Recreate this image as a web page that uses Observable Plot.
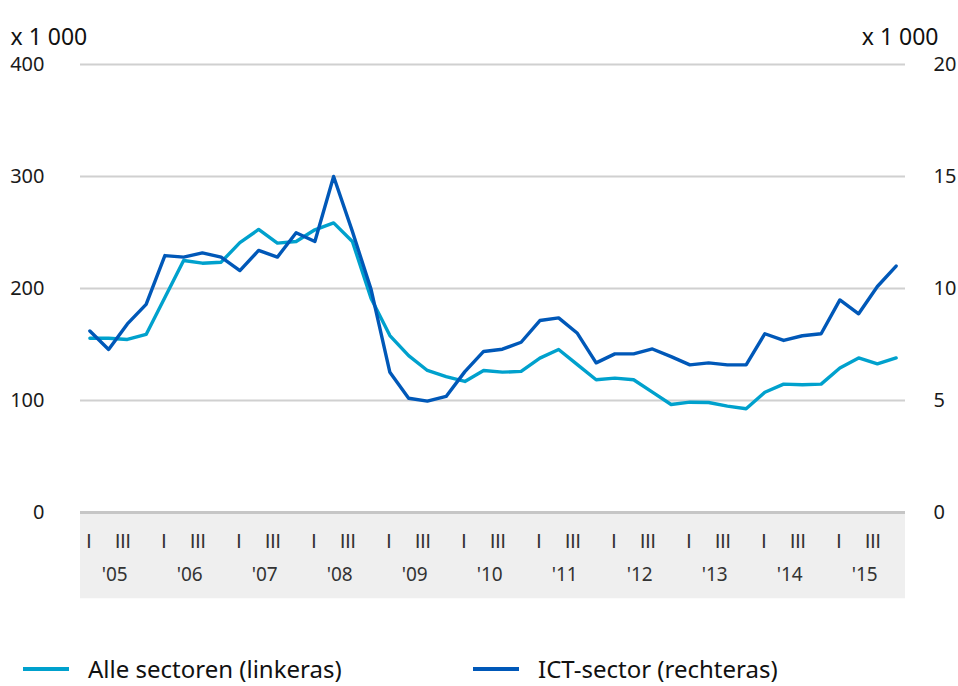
<!DOCTYPE html>
<html>
<head>
<meta charset="utf-8">
<script src="https://cdn.jsdelivr.net/npm/d3@7"></script>
<script src="https://cdn.jsdelivr.net/npm/@observablehq/plot@0.6"></script>
<style>
  html, body { margin: 0; padding: 0; background: #fff; }
  body { width: 958px; height: 686px; overflow: hidden; font-family: "Noto Sans", sans-serif; }
  #legend { position: relative; height: 36px; font-size: 24px; color: #111; }
  .item { position: absolute; top: 0; display: flex; align-items: center; height: 36px; white-space: nowrap; line-height: 1; }
  .sw { display: inline-block; width: 46px; height: 4px; margin-right: 19px; }
</style>
</head>
<body>
<div id="chart"></div>
<div id="legend"></div>
<script>
// ---- data (quarterly, 2005 Q1 – 2015 Q4) ----
const years = [2005, 2006, 2007, 2008, 2009, 2010, 2011, 2012, 2013, 2014, 2015];
const yearLabels = ["'05", "'06", "'07", "'08", "'09", "'10", "'11", "'12", "'13", "'14", "'15"];
const quarterLabels = ["I", "II", "III", "IV"];
// Alle sectoren (linkeras), x 1 000
const alleSectoren = [
  155.6, 155.6, 154.5, 159, 192, 225, 222.6, 223.5, 241, 252.7, 240.5, 242,
  252.4, 258.6, 242, 191, 158, 140, 126.8, 121.4, 117, 126.8, 125.3, 126,
  137.8, 145.5, 132, 118.5, 120, 118.5, 107.5, 96.4, 98.5, 98.2, 95, 92.6,
  107.4, 114.6, 114, 114.6, 129, 138, 132.7, 138
];
// ICT-sector (rechteras), x 1 000
const ictSector = [
  8.1, 7.28, 8.42, 9.29, 11.47, 11.4, 11.59, 11.4, 10.8, 11.7, 11.4, 12.49,
  12.1, 15.0, 12.55, 9.95, 6.26, 5.1, 4.97, 5.18, 6.29, 7.19, 7.29, 7.6,
  8.57, 8.69, 8.0, 6.68, 7.08, 7.08, 7.3, 6.96, 6.59, 6.68, 6.59, 6.59,
  7.98, 7.68, 7.89, 7.98, 9.49, 8.87, 10.09, 11.0
];
const leftTicks = [0, 100, 200, 300, 400];
const rightTicks = [0, 5, 10, 15, 20];
const unitLabel = "x 1 000";
const seriesNames = ["Alle sectoren (linkeras)", "ICT-sector (rechteras)"];
const colors = ["#00a1cd", "#0058b8"];

// ---- table ----
const ratio = leftTicks[leftTicks.length - 1] / rightTicks[rightTicks.length - 1];
const rows = [];
years.forEach((y, yi) => quarterLabels.forEach((q, qi) => {
  const i = yi * 4 + qi;
  rows.push({key: `${y}-${qi + 1}`, year: y, q, yearLabel: yearLabels[yi],
             alle: alleSectoren[i], ict: ictSector[i]});
}));
const keys = rows.map(d => d.key);
const q1Rows = rows.filter(d => d.q === "I");
const q3Rows = rows.filter(d => d.q === "III");
const yRows = rows.filter(d => d.q === "II");

const FONT = "Noto Sans";
const lab = {frameAnchor: "bottom", fontSize: 19, fill: "#333"};
const chart = Plot.plot({
  width: 958,
  height: 650,
  marginTop: 64,
  marginBottom: 138,
  marginLeft: 80,
  marginRight: 53,
  style: {fontFamily: FONT, fontSize: "19px", color: "#1a1a1a", background: "#fff", overflow: "visible"},
  x: {type: "point", domain: keys, padding: 0.5, axis: null},
  y: {domain: [0, 400], axis: null},
  marks: [
    // grey band under the x axis
    Plot.rect([0], {y1: 0, y2: -77, fill: "#efefef"}),
    Plot.gridY(leftTicks.filter(d => d > 0), {stroke: "#d0d0d0", strokeOpacity: 1, strokeWidth: 2}),
    Plot.ruleY([0], {stroke: "#c6c6c6", strokeWidth: 3}),
    Plot.axisY({anchor: "left", ticks: leftTicks, tickSize: 0, tickPadding: 36, fontSize: 20, label: null, tickFormat: d => d}),
    Plot.axisY({anchor: "right", ticks: rightTicks.map(v => v * ratio), tickSize: 0, tickPadding: 28, fontSize: 20, label: null, tickFormat: d => d / ratio}),
    Plot.text([unitLabel], {frameAnchor: "top-left", dx: -70, dy: -36, textAnchor: "start", fontSize: 23, fill: "#111"}),
    Plot.text([unitLabel], {frameAnchor: "top-right", dx: 33, dy: -36, textAnchor: "end", fontSize: 23, fill: "#111"}),
    Plot.text(q1Rows, {x: "key", text: "q", dy: 35, dx: -1, fontFamily: "Lato", ...lab}),
    Plot.text(q3Rows, {x: "key", text: "q", dy: 35, dx: -4.5, fontFamily: "Lato", ...lab}),
    Plot.text(yRows, {x: "key", text: "yearLabel", dy: 68, dx: 6, fontFamily: FONT, ...lab}),
    Plot.line(rows, {x: "key", y: "alle", stroke: colors[0], strokeWidth: 3.4}),
    Plot.line(rows, {x: "key", y: d => d.ict * ratio, stroke: colors[1], strokeWidth: 3.4})
  ]
});
document.getElementById("chart").appendChild(chart);

const legend = document.getElementById("legend");
const positions = [23, 473];
seriesNames.forEach((name, i) => {
  const it = document.createElement("div");
  it.className = "item";
  it.style.left = positions[i] + "px";
  it.style.top = "1px";
  it.innerHTML = `<span class="sw" style="background:${colors[i]}"></span><span>${name}</span>`;
  legend.appendChild(it);
});
</script>
</body>
</html>
